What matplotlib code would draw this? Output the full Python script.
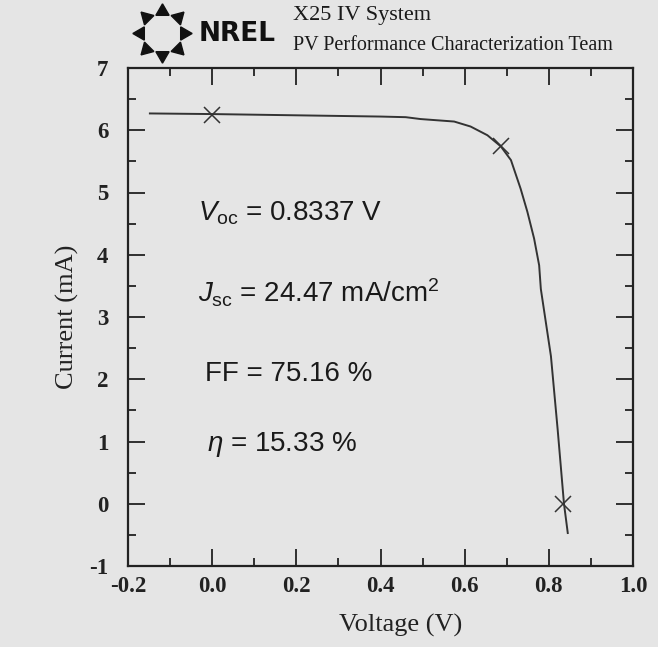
import numpy as np
import matplotlib
matplotlib.use("Agg")
import matplotlib.pyplot as plt

# IV curve
voltage = [-0.148, 0.0, 0.1, 0.2, 0.3, 0.4, 0.46, 0.495, 0.575, 0.614, 0.654,
           0.686, 0.710, 0.733, 0.749, 0.765, 0.777, 0.781, 0.805, 0.821, 0.836, 0.845]
current = [6.27, 6.26, 6.25, 6.24, 6.23, 6.22, 6.21, 6.18, 6.14, 6.06, 5.92,
           5.74, 5.52, 5.06, 4.69, 4.26, 3.83, 3.45, 2.37, 1.19, 0.0, -0.47]

# marked points: Isc, max power, Voc
mark_v = [0.0, 0.686, 0.8337]
mark_i = [6.25, 5.74, 0.0]

xticks = [-0.2, 0.0, 0.2, 0.4, 0.6, 0.8, 1.0]
yticks = [-1, 0, 1, 2, 3, 4, 5, 6, 7]

params = ["$V_{\\rm oc}$ = 0.8337 V",
          "$J_{\\rm sc}$ = 24.47 mA/cm$^2$",
          "FF = 75.16 %",
          "$\\eta$ = 15.33 %"]
param_x = [-0.033, -0.033, -0.017, -0.012]
param_y = [4.55, 3.24, 1.97, 0.84]

plt.rcParams['mathtext.fontset'] = 'custom'
plt.rcParams['mathtext.rm'] = 'Liberation Sans'
plt.rcParams['mathtext.it'] = 'Liberation Sans:italic'

bg = '#e5e5e5'
fig = plt.figure(figsize=(6.58, 6.47), dpi=100, facecolor=bg)
ax = fig.add_axes([128/658, 1-566/647, (633-128)/658, (566-68)/647])
ax.set_facecolor(bg)

ax.plot(voltage, current, color='#333333', lw=1.4)
ax.plot(mark_v, mark_i, ls='none', marker='x', ms=12, mew=1.1, color='#333333')

ax.set_xlim(-0.2, 1.0)
ax.set_ylim(-1, 7)
ax.set_xticks(xticks)
ax.set_xticklabels([f"{t:.1f}" for t in xticks])
ax.set_yticks(yticks)
ax.set_yticklabels([str(t) for t in yticks])
ax.set_xticks(np.arange(-0.1, 1.0, 0.2), minor=True)
ax.set_yticks(np.arange(-0.5, 7.0, 1.0), minor=True)

ax.tick_params(which='both', direction='in', top=True, right=True, width=1.3, color='#222222')
ax.tick_params(which='major', length=12)
ax.tick_params(which='minor', length=6)
ax.tick_params(axis='x', pad=7)
ax.tick_params(axis='y', pad=14)
for lab in ax.get_xticklabels() + ax.get_yticklabels():
    lab.set_fontfamily('Liberation Serif')
    lab.set_fontweight('bold')
    lab.set_fontsize(16.5)
    lab.set_color('#222222')
for s in ax.spines.values():
    s.set_linewidth(1.6)
    s.set_color('#222222')

ax.set_xlabel('Voltage (V)', family='Liberation Serif', fontsize=19, color='#222222')
ax.set_ylabel('Current (mA)', family='Liberation Serif', fontsize=19, color='#222222')
ax.xaxis.set_label_coords((401-128)/505, -(625-566)/498)
ax.yaxis.set_label_coords(-(128-67)/505, 0.5)
ax.xaxis.label.set_va('center')
ax.yaxis.label.set_va('center')

for txt, x, y in zip(params, param_x, param_y):
    ax.text(x, y, txt, family='Liberation Sans', fontsize=20, va='baseline', ha='left', color='#1a1a1a')

# header: logo and team name
ang = np.arange(8) * 45
cx, cy, r = 162/658, 1-33/647, 22/658
for a in ang:
    t = np.deg2rad(a)
    fig.add_artist(plt.Line2D([cx + r*np.cos(t)], [cy + r*np.sin(t)*658/647],
                              marker=(3, 0, a-90), ms=11, color='#111111', ls='none',
                              transform=fig.transFigure))
fig.text(199/658, 1-34/647, 'NREL', family='DejaVu Sans', fontweight='heavy',
         fontsize=19, va='center', ha='left', color='#111111')
fig.text(293/658, 1-20/647, 'X25 IV System', family='Liberation Serif', fontsize=16,
         va='baseline', ha='left', color='#1a1a1a')
fig.text(293/658, 1-50/647, 'PV Performance Characterization Team', family='Liberation Serif',
         fontsize=14.5, va='baseline', ha='left', color='#1a1a1a')

fig.savefig('out.png', dpi=100, facecolor=bg)
